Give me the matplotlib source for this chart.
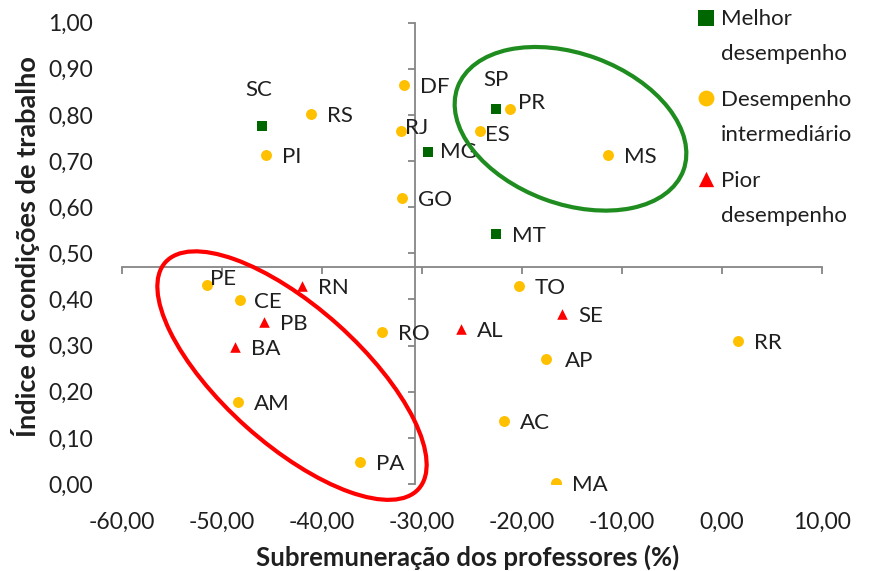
import numpy as np
import matplotlib
matplotlib.use('Agg')
import matplotlib.pyplot as plt
from matplotlib.patches import Ellipse
from matplotlib.transforms import IdentityTransform
from matplotlib.ticker import FuncFormatter, MultipleLocator

plt.rcParams['font.family'] = ['Lato', 'DejaVu Sans']

# melhor desempenho
melhor_uf = ['SC', 'MG', 'SP', 'MT']
melhor_x = [-46.0, -29.4, -22.6, -22.6]
melhor_y = [0.775, 0.720, 0.812, 0.543]

# desempenho intermediario
inter_uf = ['RS', 'PI', 'DF', 'RJ', 'GO', 'PR', 'ES', 'MS', 'PE', 'CE',
            'AM', 'RO', 'PA', 'TO', 'RR', 'AP', 'AC', 'MA']
inter_x = [-41.1, -45.6, -31.8, -32.1, -32.0, -21.2, -24.2, -11.4, -51.5, -48.2,
           -48.4, -34.0, -36.2, -20.3, 1.6, -17.6, -21.8, -16.6]
inter_y = [0.802, 0.713, 0.865, 0.765, 0.621, 0.812, 0.765, 0.713, 0.431, 0.399,
           0.178, 0.330, 0.048, 0.430, 0.309, 0.270, 0.137, 0.003]

# pior desempenho
pior_uf = ['RN', 'PB', 'BA', 'SE', 'AL']
pior_x = [-42.0, -45.8, -48.7, -16.0, -26.1]
pior_y = [0.429, 0.352, 0.298, 0.368, 0.336]

cross_x = -30.7
cross_y = 0.47

# label offsets in pixels (dx, dy, ha); default is to the right
offsets = {'SC': (-3, 36, 'center'), 'SP': (0, 29, 'center'),
           'RJ': (4, 3, 'left'), 'PR': (8, 6, 'left'), 'ES': (5, -4, 'left'),
           'PE': (3, 6, 'left'), 'MG': (12, 0, 'left'), 'CE': (14, -2, 'left'),
           'AP': (19, -2, 'left')}

fig = plt.figure(figsize=(8.69, 5.71), dpi=100)
ax = fig.add_axes([122 / 869, 87 / 571, 700 / 869, 461.3 / 571])
ax.set_xlim(-60, 10)
ax.set_ylim(0, 1)

for s in ax.spines.values():
    s.set_visible(False)
fmt = FuncFormatter(lambda v, p: f'{v:.2f}'.replace('.', ','))
ax.xaxis.set_major_locator(MultipleLocator(10))
ax.yaxis.set_major_locator(MultipleLocator(0.1))
ax.xaxis.set_major_formatter(fmt)
ax.yaxis.set_major_formatter(fmt)
ax.tick_params(length=0, labelsize=16.5, labelcolor='#1f1f1f')
ax.tick_params(axis='x', pad=20)
ax.tick_params(axis='y', pad=21)

# axes crossing inside the plot
secx = ax.secondary_xaxis(cross_y)
secx.set_xticks(np.arange(-60, 11, 10))
secy = ax.secondary_yaxis((cross_x + 60) / 70)
secy.set_yticks(np.arange(0, 1.01, 0.1))
for sa, side in [(secx, 'bottom'), (secy, 'left')]:
    sa.spines[side].set_color('#868686')
    sa.spines[side].set_linewidth(1.3)
    sa.tick_params(direction='out', length=5, width=1.3, color='#868686',
                   labelbottom=False, labelleft=False)

s1 = ax.scatter(melhor_x, melhor_y, marker='s', s=60, c='#006600', lw=0,
                label='Melhor\ndesempenho', zorder=3)
s2 = ax.scatter(inter_x, inter_y, marker='o', s=62, c='#FFC000', lw=0,
                label='Desempenho\nintermediário', zorder=3)
s3 = ax.scatter(pior_x, pior_y, marker='^', s=58, c='#FF0000', lw=0,
                label='Pior\ndesempenho', zorder=3)

for ufs, xs, ys in [(melhor_uf, melhor_x, melhor_y), (inter_uf, inter_x, inter_y),
                    (pior_uf, pior_x, pior_y)]:
    for uf, x, y in zip(ufs, xs, ys):
        dx, dy, ha = offsets.get(uf, (16, -2, 'left'))
        ax.annotate(uf, (x, y), xytext=(dx, dy), textcoords='offset pixels',
                    ha=ha, va='center', fontsize=16, color='#1f1f1f', zorder=4)

# highlight rings (pixel sizes)
for cx, cy, w, h, ang, col in [(-15.15, 0.770, 240.6, 150.2, -20.2, '#1f8c1f'),
                               (-43.0, 0.235, 339.8, 137.2, -41.8, '#ff0000')]:
    px, py = ax.transData.transform((cx, cy))
    fig.add_artist(Ellipse((px, py), w, h, angle=ang, transform=IdentityTransform(),
                           fill=False, ec=col, lw=3, zorder=5))

leg = ax.legend(handles=[s1, s2, s3], loc='upper left',
                bbox_to_anchor=(695 / 869, 1 - 9 / 571), bbox_transform=fig.transFigure,
                frameon=False, fontsize=16, handletextpad=0.15, handlelength=1.0,
                labelspacing=1.15, borderpad=0, borderaxespad=0, markerscale=1.45,
                scatterpoints=1, scatteryoffsets=[1.73])
for t in leg.get_texts():
    t.set_linespacing(1.95)
    t.set_color('#1f1f1f')

fig.text(26 / 869, 1 - 247 / 571, 'Índice de condições de trabalho', rotation=90,
         ha='center', va='center', fontsize=19.5, fontweight='bold', color='#1f1f1f')
fig.text(468 / 869, 1 - 557 / 571, 'Subremuneração dos professores (%)',
         ha='center', va='center', fontsize=18.5, fontweight='bold', color='#1f1f1f')

plt.savefig('out.png', dpi=100)
